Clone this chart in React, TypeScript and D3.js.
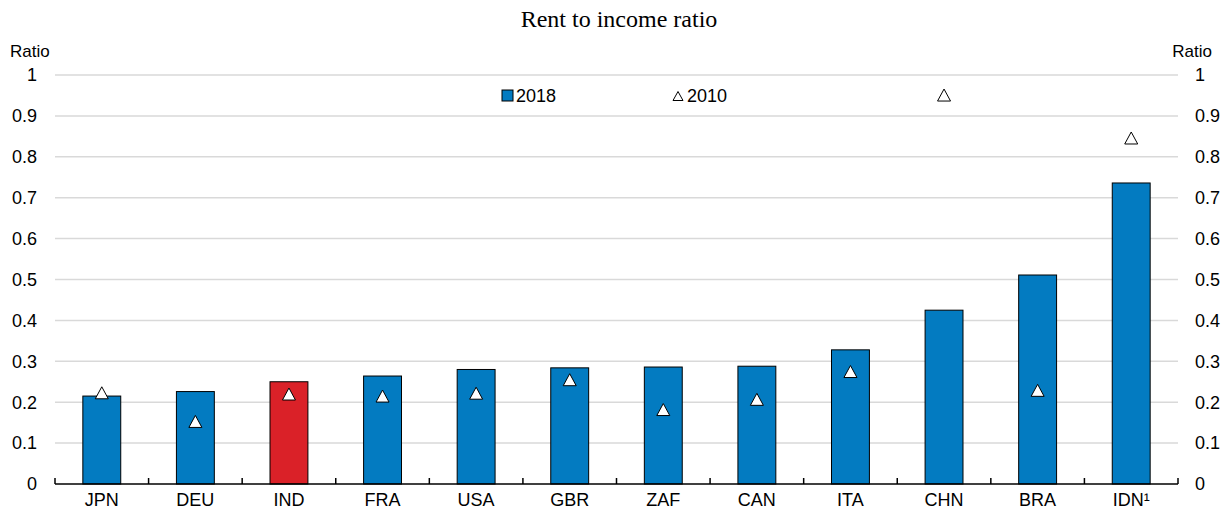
import React from "react";
import * as d3 from "d3";

const categories = ["JPN", "DEU", "IND", "FRA", "USA", "GBR", "ZAF", "CAN", "ITA", "CHN", "BRA", "IDN¹"];
const values2018 = [0.215, 0.226, 0.25, 0.264, 0.28, 0.284, 0.286, 0.288, 0.328, 0.425, 0.511, 0.736];
const values2010 = [0.223, 0.153, 0.22, 0.215, 0.222, 0.255, 0.182, 0.207, 0.275, 0.951, 0.229, 0.846];
const highlight = ["IND"];
const yTicks = [0, 0.1, 0.2, 0.3, 0.4, 0.5, 0.6, 0.7, 0.8, 0.9, 1];
const title = "Rent to income ratio";
const axisTitle = "Ratio";
const legendLabels = ["2018", "2010"];

const W = 1227;
const H = 509;
const left = 55;
const right = 1178;
const top = 75;
const bottom = 484;
const BLUE = "#037BC1";
const RED = "#DA2128";
const GRID = "#D9D9D9";
const sans = "Arial, 'Liberation Sans', sans-serif";
const serif = "'Times New Roman', 'Liberation Serif', serif";

function triPath(cx: number, cy: number, w: number, h: number) {
  return `M${cx},${cy - h / 2}L${cx + w / 2},${cy + h / 2}L${cx - w / 2},${cy + h / 2}Z`;
}

export default function App() {
  const x = d3.scaleBand<string>().domain(categories).range([left, right]).paddingInner(0).paddingOuter(0);
  const y = d3.scaleLinear().domain([0, 1]).range([bottom, top]);
  const bw = x.bandwidth();
  const barW = bw * 0.405;
  const fmt = (v: number) => (v === 0 ? "0" : v === 1 ? "1" : d3.format(".1f")(v));
  const boundaries = d3.range(categories.length + 1).map((i) => left + i * bw);

  return (
    <svg width={W} height={H} style={{ position: "absolute", left: 0, top: 0, background: "#fff" }}>
      <text x={619} y={27} textAnchor="middle" fontFamily={serif} fontSize={24} fill="#000">
        {title}
      </text>
      <text x={10} y={57} fontFamily={sans} fontSize={17} fill="#000">{axisTitle}</text>
      <text x={1212} y={57} textAnchor="end" fontFamily={sans} fontSize={17} fill="#000">{axisTitle}</text>
      {yTicks.map((t) => (
        <g key={t}>
          {t > 0 && (
            <line x1={left} x2={right} y1={y(t)} y2={y(t)} stroke={GRID} strokeWidth={1.5} />
          )}
          <text x={37} y={y(t)} dy="0.35em" textAnchor="end" fontFamily={sans} fontSize={18} fill="#000">
            {fmt(t)}
          </text>
          <text x={1195} y={y(t)} dy="0.35em" textAnchor="start" fontFamily={sans} fontSize={18} fill="#000">
            {fmt(t)}
          </text>
        </g>
      ))}
      {categories.map((c, i) => (
        <rect
          key={c}
          x={(x(c) as number) + (bw - barW) / 2}
          y={y(values2018[i])}
          width={barW}
          height={y(0) - y(values2018[i])}
          fill={highlight.includes(c) ? RED : BLUE}
          stroke="#000"
          strokeWidth={1}
        />
      ))}
      {categories.map((c, i) => (
        <path
          key={c}
          d={triPath((x(c) as number) + bw / 2, y(values2010[i]), 13, 12)}
          fill="#fff"
          stroke="#000"
          strokeWidth={1}
        />
      ))}
      <line x1={left} x2={right} y1={bottom} y2={bottom} stroke="#000" strokeWidth={1.5} />
      {boundaries.map((b, i) => (
        <line key={i} x1={b} x2={b} y1={bottom} y2={bottom - 6} stroke="#000" strokeWidth={1.5} />
      ))}
      {categories.map((c) => (
        <text key={c} x={(x(c) as number) + bw / 2} y={506} textAnchor="middle" fontFamily={sans} fontSize={18} fill="#000">
          {c}
        </text>
      ))}
      <rect x={502} y={90} width={11} height={11} fill={BLUE} stroke="#000" strokeWidth={1} />
      <text x={516} y={96} dy="0.35em" fontFamily={sans} fontSize={18} fill="#000">{legendLabels[0]}</text>
      <path d={triPath(678, 96, 10, 9)} fill="#fff" stroke="#000" strokeWidth={1} />
      <text x={687} y={96} dy="0.35em" fontFamily={sans} fontSize={18} fill="#000">{legendLabels[1]}</text>
    </svg>
  );
}
